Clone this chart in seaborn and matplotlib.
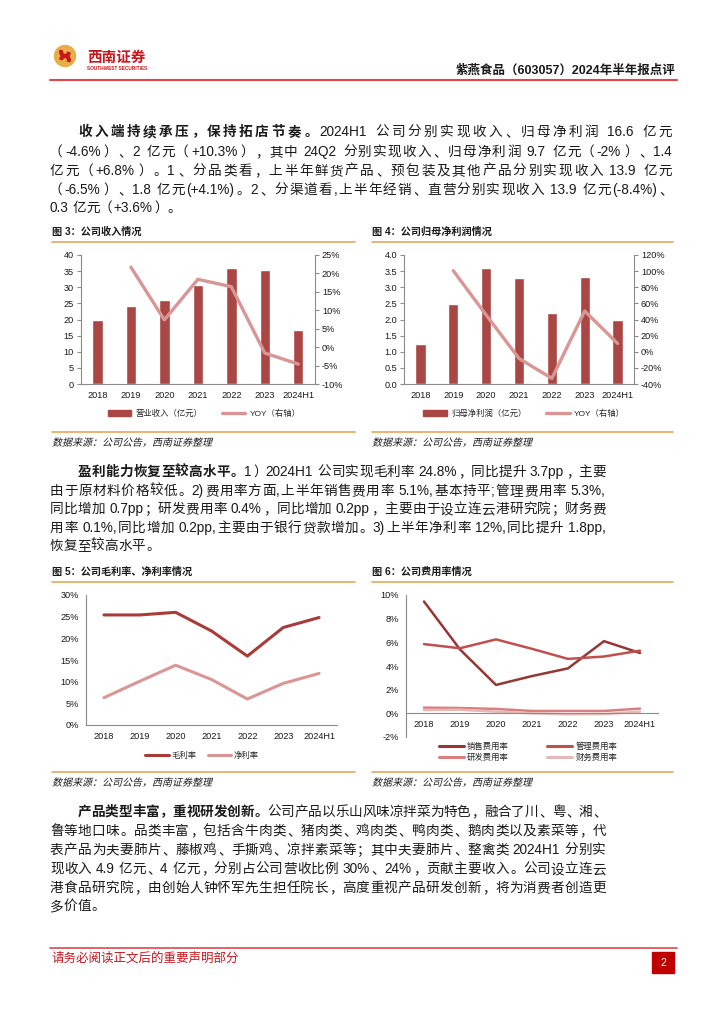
import re

import matplotlib
matplotlib.use("Agg")
import matplotlib.pyplot as plt
import numpy as np
import seaborn as sns
from matplotlib.font_manager import FontProperties
from matplotlib.lines import Line2D
from matplotlib.patches import Circle, Patch, PathPatch, Rectangle, Wedge
from matplotlib.textpath import TextPath
from matplotlib.transforms import Affine2D

W, H = 724, 1024

years = ["2018", "2019", "2020", "2021", "2022", "2023", "2024H1"]
revenue = [19.8, 24.2, 26.1, 30.8, 35.9, 35.3, 16.6]
revenue_yoy = [21.7, 7.4, 18.4, 16.4, -1.6, -4.6]  # from 2019
profit = [1.23, 2.47, 3.60, 3.29, 2.20, 3.32, 2.00]
profit_yoy = [100.5, 45.6, -8.3, -33.0, 50.5, 10.3]  # from 2019
gross_margin = [25.4, 25.4, 26.0, 21.7, 15.9, 22.5, 24.8]
net_margin = [6.3, 10.1, 13.8, 10.5, 6.0, 9.6, 11.9]
sales_exp = [9.45, 5.4, 2.4, 3.15, 3.8, 6.1, 5.1]
admin_exp = [5.85, 5.5, 6.25, 5.45, 4.6, 4.8, 5.3]
rd_exp = [0.48, 0.45, 0.37, 0.2, 0.2, 0.2, 0.4]
fin_exp = [0.28, 0.3, 0.14, 0.0, -0.08, -0.06, 0.14]

BAR = "#AA4643"
YOY = "#D99694"
GM = "#A93B38"
NM = "#D99694"
EXP_COLORS = ["#953735", "#C0504D", "#D7807D", "#E6B9B8"]
ORANGE = "#E4A85A"
AXIS = "#8C8C8C"
RED = "#C8161D"
TXT = "#1A1A1A"
SOURCE = "数据来源：公司公告，西南证券整理"

sns.set_style("white")
plt.rcParams["font.family"] = ["Liberation Sans", "Noto Sans CJK SC"]
plt.rcParams["axes.unicode_minus"] = False

fig = plt.figure(figsize=(W / 100, H / 100), dpi=100)
bg = fig.add_axes([0, 0, 1, 1])
bg.set_xlim(0, W)
bg.set_ylim(H, 0)
bg.axis("off")
renderer = fig.canvas.get_renderer()


def px_axes(left, top, right, bottom):
    return fig.add_axes([left / W, 1 - bottom / H, (right - left) / W, (bottom - top) / H])


def body_line(y, parts, x0=50, x1=606, size=9.8, justify=True):
    em = size * fig.dpi / 72
    items = []
    for s, bold in parts:
        for tok in re.findall(r"[!-~]+| |.", s):
            if tok == " ":
                items.append((None, tok, 0.25 * em))
                continue
            t = bg.text(0, y, tok, fontsize=size, color=TXT, va="center",
                        fontweight="bold" if bold else "normal")
            if ord(tok[0]) > 0x2000:
                w = em
            else:
                w = t.get_window_extent(renderer).width + 0.5
            items.append((t, tok, w))
    total = sum(w for _, _, w in items)
    gap = (x1 - x0 - total) / (len(items) - 1) if justify and len(items) > 1 else 0
    x = x0
    for t, tok, w in items:
        if t is not None:
            if tok == "（":
                t.set_ha("right")
                t.set_x(x + w - 1)
            elif tok in "，。、；：）":
                t.set_ha("left")
                t.set_x(x + 1)
            elif ord(tok[0]) > 0x2000:
                t.set_ha("center")
                t.set_x(x + w / 2)
            else:
                t.set_ha("left")
                t.set_x(x)
        x += w + gap


def paragraph(ys, lines, right):
    for i, (y, parts) in enumerate(zip(ys, lines)):
        if isinstance(parts, str):
            parts = [(parts, False)]
        x0 = 78 if i == 0 else 50
        body_line(y, parts, x0=x0, x1=right, justify=i < len(lines) - 1)


def slanted_text(x, y, s, size_px=10):
    # fake italic: the CJK font has no oblique face
    path = TextPath((0, 0), s, size=size_px, prop=FontProperties(family="Noto Sans CJK SC"))
    trans = Affine2D().skew_deg(14, 0).scale(1, -1).translate(x, y + size_px * 0.38)
    bg.add_patch(PathPatch(path, transform=trans + bg.transData, color=TXT, lw=0))


def panel_frame(x0, x1, title, y_title, y_top, y_bot):
    bg.text(x0, y_title, title, fontsize=7.3, fontweight="bold", va="center", color=TXT)
    bg.plot([x0, x1], [y_top, y_top], color=ORANGE, lw=1.2)
    bg.plot([x0, x1], [y_bot, y_bot], color=ORANGE, lw=1.2)
    slanted_text(x0, y_bot + 10, SOURCE)


def style_axis(ax):
    n = len(years)
    for s in ["top", "right"]:
        ax.spines[s].set_visible(False)
    for s in ["left", "bottom"]:
        ax.spines[s].set_color(AXIS)
        ax.spines[s].set_linewidth(0.8)
    ax.set_xlim(-0.5, n - 0.5)
    ax.set_xticks(range(n))
    ax.set_xticklabels(years)
    ax.set_xticks(np.arange(-0.5, n), minor=True)
    ax.tick_params(axis="x", which="major", length=0, labelsize=6.6, pad=5, labelcolor=TXT)
    ax.tick_params(axis="x", which="minor", length=3, color=AXIS, direction="out")
    ax.tick_params(axis="y", length=3, width=0.8, color=AXIS, labelsize=6.6,
                   direction="out", pad=2, labelcolor=TXT)
    ax.set_xlabel("")
    ax.set_ylabel("")


def bar_panel(box, values, yoy, ylim, ystep, yfmt, rlim, rstep, labels, legend_x):
    ax = px_axes(*box)
    sns.barplot(x=years, y=values, color=BAR, saturation=1, width=0.31, ax=ax)
    style_axis(ax)
    ax.set_ylim(*ylim)
    ticks = np.arange(ylim[0], ylim[1] + ystep / 2, ystep)
    ax.set_yticks(ticks)
    ax.set_yticklabels([yfmt.format(v) for v in ticks])

    axr = ax.twinx()
    sns.lineplot(x=np.arange(1, len(years)), y=yoy, color=YOY, lw=2.4, ax=axr)
    for s in ["top", "left", "bottom"]:
        axr.spines[s].set_visible(False)
    axr.spines["right"].set_color(AXIS)
    axr.spines["right"].set_linewidth(0.8)
    axr.set_xlim(-0.5, len(years) - 0.5)
    axr.set_ylim(*rlim)
    rticks = np.arange(rlim[0], rlim[1] + 1, rstep)
    axr.set_yticks(rticks)
    axr.set_yticklabels([f"{v:.0f}%" for v in rticks])
    axr.tick_params(axis="y", length=3, width=0.8, color=AXIS, labelsize=6.6,
                    direction="out", pad=2, labelcolor=TXT)
    axr.set_ylabel("")

    handles = [Patch(color=BAR), Line2D([], [], color=YOY, lw=2.4)]
    fig.legend(handles, labels, loc="center", bbox_to_anchor=(legend_x / W, 1 - 414 / H),
               ncol=2, frameon=False, fontsize=6, handlelength=2.8,
               columnspacing=2.4, handletextpad=0.5)


# ---- header ----
bg.add_patch(Circle((65, 56), 10.5, color="#E8AE48"))
bg.add_patch(Wedge((65, 52), 5.2, 10, 200, width=2.6, color=RED))
bg.add_patch(Wedge((65, 60), 5.2, 190, 380, width=2.6, color=RED))
bg.text(87, 58, "西南证券", color=RED, fontsize=10.5, fontweight="bold", va="center")
bg.text(87, 69, "SOUTHWEST SECURITIES", color=RED, fontsize=3.4, fontweight="bold", va="center")
bg.text(675, 71, "紫燕食品（603057）2024年半年报点评", fontsize=9, fontweight="bold",
        ha="right", va="center", color=TXT)
bg.plot([50, 677], [80, 80], color="#E0474C", lw=1.5)

# ---- paragraph 1 ----
paragraph([132, 152, 171, 190, 208], [
    [("收入端持续承压，保持拓店节奏。", True), ("2024H1 公司分别实现收入、归母净利润 16.6 亿元", False)],
    "（-4.6%）、2 亿元（+10.3%），其中 24Q2 分别实现收入、归母净利润 9.7 亿元（-2%）、1.4",
    "亿元（+6.8%）。1、分品类看，上半年鲜货产品、预包装及其他产品分别实现收入 13.9 亿元",
    "（-6.5%）、1.8 亿元(+4.1%)。2、分渠道看,上半年经销、直营分别实现收入 13.9 亿元(-8.4%)、",
    "0.3 亿元（+3.6%）。",
], right=672)

# ---- figure 3 / 4 ----
panel_frame(52, 355, "图 3：公司收入情况", 232, 241.5, 432)
panel_frame(372, 673, "图 4：公司归母净利润情况", 232, 241.5, 432)
bar_panel((80.7, 255, 315, 384), revenue, revenue_yoy, (0, 40), 5, "{:.0f}",
          (-10, 25), 5, ["营业收入（亿元）", "YOY（右轴）"], 204)
bar_panel((404, 255, 634, 384), profit, profit_yoy, (0, 4), 0.5, "{:.1f}",
          (-40, 120), 20, ["归母净利润（亿元）", "YOY（右轴）"], 524)

# ---- paragraph 2 ----
paragraph([472, 491, 509, 528, 546], [
    [("盈利能力恢复至较高水平。", True), ("1）2024H1 公司实现毛利率 24.8%，同比提升 3.7pp，主要", False)],
    "由于原材料价格较低。2)费用率方面,上半年销售费用率 5.1%,基本持平;管理费用率 5.3%,",
    "同比增加 0.7pp；研发费用率 0.4%，同比增加 0.2pp，主要由于设立连云港研究院；财务费",
    "用率 0.1%,同比增加 0.2pp,主要由于银行贷款增加。3)上半年净利率 12%,同比提升 1.8pp,",
    "恢复至较高水平。",
], right=606)

# ---- figure 5 ----
panel_frame(52, 355, "图 5：公司毛利率、净利率情况", 572, 581.5, 772)
panel_frame(372, 673, "图 6：公司费用率情况", 572, 581.5, 772)
pos = np.arange(len(years))

ax5 = px_axes(86, 595, 337, 725)
sns.lineplot(x=pos, y=gross_margin, color=GM, lw=2.2, ax=ax5)
sns.lineplot(x=pos, y=net_margin, color=NM, lw=2.2, ax=ax5)
style_axis(ax5)
ax5.set_ylim(0, 30)
ax5.set_yticks(range(0, 31, 5))
ax5.set_yticklabels([f"{v}%" for v in range(0, 31, 5)])
fig.legend([Line2D([], [], color=GM, lw=2.2), Line2D([], [], color=NM, lw=2.2)],
           ["毛利率", "净利率"], loc="center", bbox_to_anchor=(202 / W, 1 - 756 / H),
           ncol=2, frameon=False, fontsize=6, handlelength=2.8,
           columnspacing=1.4, handletextpad=0.3)

# ---- figure 6 ----
ax6 = px_axes(406, 595, 658, 737)
exp_series = [sales_exp, admin_exp, rd_exp, fin_exp]
exp_names = ["销售费用率", "管理费用率", "研发费用率", "财务费用率"]
for vals, col in zip(exp_series, EXP_COLORS):
    sns.lineplot(x=pos, y=vals, color=col, lw=1.8, ax=ax6)
style_axis(ax6)
ax6.spines["bottom"].set_position(("data", 0))
ax6.set_ylim(-2, 10)
ax6.set_yticks(range(-2, 11, 2))
ax6.set_yticklabels([f"{v}%" for v in range(-2, 11, 2)])
ax6.tick_params(axis="x", which="major", pad=5)
order = [0, 2, 1, 3]
fig.legend([Line2D([], [], color=EXP_COLORS[i], lw=2.2) for i in order],
           [exp_names[i] for i in order], loc="center",
           bbox_to_anchor=(528 / W, 1 - 752 / H), ncol=2, frameon=False,
           fontsize=6, handlelength=3.0, columnspacing=4.6,
           handletextpad=0.4, labelspacing=0.35)

# ---- paragraph 3 ----
paragraph([812, 831, 850, 869, 888, 906], [
    [("产品类型丰富，重视研发创新。", True), ("公司产品以乐山风味凉拌菜为特色，融合了川、粤、湘、", False)],
    "鲁等地口味。品类丰富，包括含牛肉类、猪肉类、鸡肉类、鸭肉类、鹅肉类以及素菜等，代",
    "表产品为夫妻肺片、藤椒鸡、手撕鸡、凉拌素菜等；其中夫妻肺片、整禽类 2024H1 分别实",
    "现收入 4.9 亿元、4 亿元，分别占公司营收比例 30%、24%，贡献主要收入。公司设立连云",
    "港食品研究院，由创始人钟怀军先生担任院长，高度重视产品研发创新，将为消费者创造更",
    "多价值。",
], right=606)

# ---- footer ----
bg.plot([50, 677], [948, 948], color="#E0474C", lw=1.2)
bg.text(52, 959, "请务必阅读正文后的重要声明部分", color=RED, fontsize=9, va="center")
bg.add_patch(Rectangle((652, 952), 22, 21, color="#C00000"))
bg.text(663, 962.5, "2", color="white", fontsize=7.5, ha="center", va="center")

fig.savefig("out.png", dpi=100, facecolor="white")
